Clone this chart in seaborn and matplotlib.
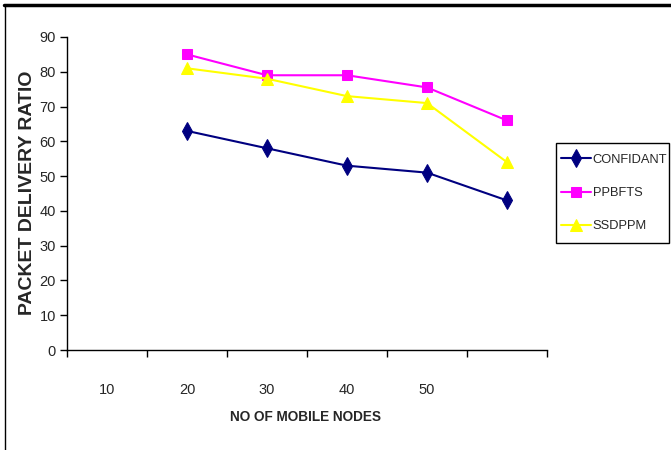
import numpy as np
import pandas as pd
import matplotlib
matplotlib.use("Agg")
import matplotlib.pyplot as plt
import seaborn as sns
from matplotlib.lines import Line2D
from matplotlib.patches import Rectangle

# ---- data ----
node_labels = ["10", "20", "30", "40", "50", ""]
confidant = [np.nan, 63, 58, 53, 51, 43]
ppbfts = [np.nan, 85, 79, 79, 75.5, 66]
ssdppm = [np.nan, 81, 78, 73, 71, 54]
series_names = ["CONFIDANT", "PPBFTS", "SSDPPM"]
y_ticks = [0, 10, 20, 30, 40, 50, 60, 70, 80, 90]

sns.set_style("white")
plt.rcParams["font.family"] = ["Liberation Sans", "DejaVu Sans"]

fig = plt.figure(figsize=(6.71, 4.5), dpi=100)
ax = fig.add_axes([67/671, 1-350/450, 480/671, 313/450])

pos = np.arange(len(node_labels))
df = pd.DataFrame({"pos": np.tile(pos, 3),
                   "val": confidant + ppbfts + ssdppm,
                   "series": np.repeat(series_names, len(pos))})

styles = {"CONFIDANT": ("#000080", "d", 9),
          "PPBFTS": ("#FF00FF", "s", 7),
          "SSDPPM": ("#FFFF00", "^", 8)}
for name in series_names:
    c, m, ms = styles[name]
    sub = df[df.series == name].dropna()
    sns.lineplot(data=sub, x="pos", y="val", ax=ax, color=c, marker=m,
                 markersize=ms, markeredgecolor=c, linewidth=1.5, label=name,
                 legend=False)

ax.set_xlim(-0.5, len(node_labels) - 0.5)
ax.set_ylim(0, 90)
ax.set_yticks(y_ticks)
ax.set_yticklabels([str(v) for v in y_ticks], fontsize=10.5)
ax.set_xticks(np.arange(-0.5, len(node_labels), 1))
ax.set_xticklabels([])
ax.set_xticks(pos, minor=True)
ax.set_xticklabels(node_labels, minor=True, fontsize=10.5)
ax.tick_params(axis="x", which="major", direction="out", length=5, width=1, color="black", bottom=True)
ax.tick_params(axis="x", which="minor", length=0, pad=24)
ax.tick_params(axis="y", direction="out", length=5, width=1, color="black", left=True, pad=3)
ax.set_xlabel("")
ax.set_ylabel("")
for s in ["top", "right"]:
    ax.spines[s].set_visible(False)
for s in ["left", "bottom"]:
    ax.spines[s].set_color("black")
    ax.spines[s].set_linewidth(1)

fig.text(28/671, 1-193/450, "PACKET DELIVERY RATIO", rotation=90, ha="center",
         va="center", fontsize=14, fontweight="bold")
fig.text(306/671, 1-417/450, "NO OF MOBILE NODES", ha="center", va="center",
         fontsize=9.8, fontweight="bold")

handles, labels = ax.get_legend_handles_labels()
leg = fig.legend(handles, labels, loc="center left", bbox_to_anchor=(561/671, 1-193/450),
                 frameon=False, fontsize=9.3,
                 handlelength=2.3, handletextpad=0.15, labelspacing=1.65, borderpad=0,
                 borderaxespad=0)
fig.add_artist(Rectangle((556/671, 1-243/450), 113/671, 100/450, transform=fig.transFigure,
                         fill=False, edgecolor="black", linewidth=1))

fig.add_artist(Line2D([4/671, 1], [1-5/450, 1-5/450], transform=fig.transFigure, color="black", linewidth=2.5))
fig.add_artist(Line2D([4.5/671, 4.5/671], [0, 1-5/450], transform=fig.transFigure, color="black", linewidth=1))

fig.savefig("out.png", dpi=100)
